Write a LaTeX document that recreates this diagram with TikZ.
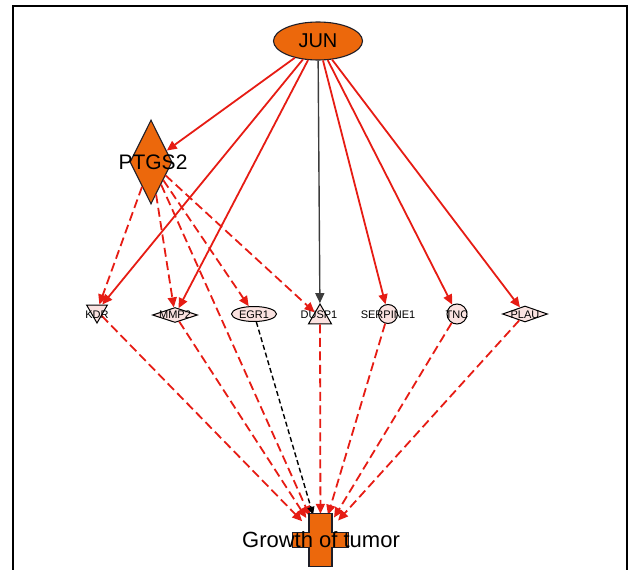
\documentclass[tikz,border=0pt]{standalone}
\usepackage{fontspec}
\setmainfont{Liberation Sans}
\usetikzlibrary{shapes.geometric,arrows.meta}
\definecolor{orng}{RGB}{236,104,12}
\definecolor{rd}{RGB}{230,28,20}
\definecolor{pnk}{RGB}{250,226,224}
\definecolor{edgedk}{RGB}{30,30,40}
\definecolor{gry}{RGB}{60,60,60}
\begin{document}
\begin{tikzpicture}[x=1pt,y=-1pt,
  bignode/.style={draw=edgedk, line width=1.1pt, fill=orng, inner sep=0pt},
  smallnode/.style={draw=black, line width=1pt, fill=pnk, inner sep=0pt},
  lbl/.style={font=\fontsize{11}{11}\selectfont, inner sep=0pt},
  act/.style={draw=rd, line width=1.8pt, -{Triangle[length=10pt,width=9pt]}},
  indir/.style={act, dash pattern=on 9pt off 4.5pt},
  actk/.style={draw=gry, line width=1.4pt, -{Triangle[length=10pt,width=9pt]}},
  indirk/.style={draw=black, line width=1.4pt, dash pattern=on 5pt off 3pt, -{Triangle[length=8pt,width=7pt]}}
]
\useasboundingbox (0,0) rectangle (630,570);
% frame
\draw[line width=2pt, black] (13,570) -- (13,6) -- (627,6) -- (627,570);

% main nodes
\node[bignode, ellipse, minimum width=89pt, minimum height=38pt] (jun) at (318,41) {};
\node[bignode, diamond, minimum width=42pt, minimum height=84pt] (ptgs) at (151,162) {};

% small nodes
\node[smallnode, regular polygon, regular polygon sides=3, shape border rotate=180, minimum size=24pt] (kdr) at (97,311) {};
\node[smallnode, diamond, minimum width=45pt, minimum height=15pt] (mmp) at (175,315) {};
\node[smallnode, ellipse, minimum width=45pt, minimum height=15pt] (egr) at (254,314) {};
\node[smallnode, regular polygon, regular polygon sides=3, minimum size=26.6pt] (dusp) at (320,317.3) {};
\node[smallnode, circle, minimum size=19pt] (serp) at (388,314) {};
\node[smallnode, circle, minimum size=20pt] (tnc) at (457,314) {};
\node[smallnode, diamond, minimum width=45pt, minimum height=16pt] (plau) at (525,314) {};

% growth of tumor
\node[circle, minimum size=52pt, inner sep=0pt] (gt) at (320.5,540) {};

% edges from JUN
\draw[act] (jun) -- (ptgs);
\draw[act] (jun) -- (kdr);
\draw[act] (jun) -- (mmp);
\draw[actk] (jun) -- (dusp);
\draw[act] (jun) -- (serp);
\draw[act] (jun) -- (tnc);
\draw[act] (jun) -- (plau);

% edges from PTGS2
\draw[indir] (ptgs) -- (kdr);
\draw[indir] (ptgs) -- (mmp);
\draw[indir] (ptgs) -- (egr);
\draw[indir] (ptgs) -- (dusp);
\draw[indir] (ptgs) -- (gt);

% edges to growth
\draw[indir] (kdr) -- (gt);
\draw[indir] (mmp) -- (gt);
\draw[indirk] (egr) -- (gt);
\draw[indir] (dusp) -- (gt);
\draw[indir] (serp) -- (gt);
\draw[indir] (tnc) -- (gt);
\draw[indir] (plau) -- (gt);

% cross shape
\filldraw[bignode, shift={(gt.center)}] (-11.5,-26.5) -- (11.5,-26.5) -- (11.5,-7.5) -- (28,-7.5) -- (28,7.5) -- (11.5,7.5) -- (11.5,26.5) -- (-11.5,26.5) -- (-11.5,7.5) -- (-28,7.5) -- (-28,-7.5) -- (-11.5,-7.5) -- cycle;

% labels
\node[inner sep=0pt, font=\fontsize{20}{20}\selectfont] (junl) at (318,41) {JUN};
\node[inner sep=0pt, font=\fontsize{21}{21}\selectfont] (ptgsl) at (153,162) {PTGS2};
\node[lbl] (kdrl) at (97,315) {KDR};
\node[lbl] (mmpl) at (175,315) {MMP2};
\node[lbl] (egrl) at (254,315) {EGR1};
\node[lbl] (duspl) at (319,315) {DUSP1};
\node[lbl] (serpl) at (388,315) {SERPINE1};
\node[lbl] (tncl) at (457,315) {TNC};
\node[lbl] (plaul) at (525,315) {PLAU};
\node[inner sep=0pt, font=\fontsize{22}{22}\selectfont] (gtl) at (321,540) {Growth of tumor};
\end{tikzpicture}
\end{document}
